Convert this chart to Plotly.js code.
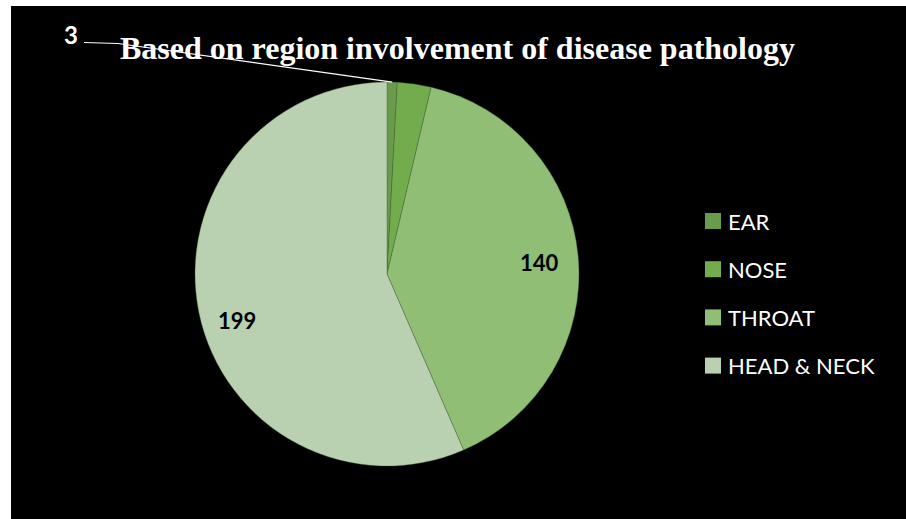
<!DOCTYPE html>
<html>
<head>
<meta charset="utf-8">
<script src="https://cdn.plot.ly/plotly-3.0.1.min.js"></script>
<style>
  html, body { margin: 0; padding: 0; background: #ffffff; }
  #chart { width: 906px; height: 519px; }
</style>
</head>
<body>
<div id="chart"></div>
<script>
// Cases grouped by the region involved
const regions = ['EAR', 'NOSE', 'THROAT', 'HEAD & NECK'];
const caseCounts = [3, 10, 140, 199];
const sliceColors = ['#6a9a4c', '#72ac4d', '#8fbe74', '#b9d1b0'];
// how each slice's value is labelled: leader line outside, inside, or none
const labelMode = ['leader', 'none', 'inside', 'inside'];
const insideYShift = [0, 0, -2, -15];

const W = 906, H = 519;
// pie placement in pixels
const pieCx = 387, pieCy = 274, pieR = 192;

const domainX = [(pieCx - pieR) / W, (pieCx + pieR) / W];
const domainY = [1 - (pieCy + pieR) / H, 1 - (pieCy - pieR) / H];

const pie = {
  type: 'pie',
  labels: regions,
  values: caseCounts,
  sort: false,
  direction: 'clockwise',
  rotation: 0,
  domain: { x: domainX, y: domainY },
  marker: { colors: sliceColors, line: { color: 'rgba(70,100,55,0.55)', width: 0.7 } },
  textinfo: 'none',
  hoverinfo: 'label+value+percent',
  showlegend: false
};

// angular position of every slice, clockwise from 12 o'clock
const total = caseCounts.reduce((a, b) => a + b, 0);
let running = 0;
const midAngles = caseCounts.map(v => {
  const a = (running + v / 2) / total * 2 * Math.PI;
  running += v;
  return a;
});
const px2x = px => px / W;
const px2y = py => 1 - py / H;
const pt = (px, py) => px2x(px).toFixed(5) + ',' + px2y(py).toFixed(5);

const annotations = [];
const shapes = [{
  type: 'rect', xref: 'paper', yref: 'paper', layer: 'below',
  x0: 11 / W, x1: 1, y0: 0, y1: 1 - 6 / H,
  fillcolor: '#000000', line: { width: 0 }
}];

const valueFont = { family: 'Lato, sans-serif', size: 22, color: '#000000', weight: 'bold' };
// outside label with a bent leader line back to the rim
const outLabel = { x: 71, y: 34, lineStartX: 84, lineStartY: 42.5, elbowX: 118, elbowY: 43.5 };
caseCounts.forEach((v, i) => {
  const a = midAngles[i];
  if (labelMode[i] === 'inside') {
    annotations.push({
      xref: 'paper', yref: 'paper',
      x: px2x(pieCx + 0.8 * pieR * Math.sin(a)),
      y: px2y(pieCy - 0.8 * pieR * Math.cos(a)),
      yshift: insideYShift[i],
      xanchor: 'center', yanchor: 'middle',
      text: String(v), showarrow: false, font: valueFont
    });
  } else if (labelMode[i] === 'leader') {
    const tx = pieCx + pieR * Math.sin(a), ty = pieCy - pieR * Math.cos(a);
    annotations.push({
      xref: 'paper', yref: 'paper',
      x: px2x(outLabel.x), y: px2y(outLabel.y),
      xanchor: 'center', yanchor: 'middle',
      text: String(v), showarrow: false,
      font: { family: 'Lato, sans-serif', size: 24, color: '#ffffff', weight: 'bold' }
    });
    shapes.push({
      type: 'path', xref: 'paper', yref: 'paper', layer: 'above',
      path: 'M' + pt(outLabel.lineStartX, outLabel.lineStartY) +
            ' L' + pt(outLabel.elbowX, outLabel.elbowY) +
            ' L' + pt(tx, ty),
      line: { color: '#ffffff', width: 1.2 }
    });
  }
});

// legend built from the same labels and colours
const legX = 705, legSq = 16, legTop = 221, legStep = 48.2;
regions.forEach((name, i) => {
  const cy = legTop + i * legStep;
  shapes.push({
    type: 'rect', xref: 'paper', yref: 'paper', layer: 'above',
    x0: px2x(legX), x1: px2x(legX + legSq),
    y0: px2y(cy + legSq / 2), y1: px2y(cy - legSq / 2),
    fillcolor: sliceColors[i], line: { width: 0 }
  });
  annotations.push({
    xref: 'paper', yref: 'paper',
    x: px2x(legX + legSq + 5), y: px2y(cy),
    xanchor: 'left', yanchor: 'middle',
    text: name, showarrow: false,
    font: { family: 'Lato, sans-serif', size: 22, color: '#ffffff' }
  });
});

const layout = {
  width: W, height: H,
  margin: { l: 0, r: 0, t: 0, b: 0 },
  paper_bgcolor: '#ffffff',
  title: {
    text: '<b>Based on region involvement of disease pathology</b>',
    font: { family: '"Liberation Serif", "Times New Roman", serif', size: 32, color: '#ffffff' },
    x: 457.5 / W, xref: 'paper', xanchor: 'center',
    y: 1 - 47.5 / H, yref: 'container', yanchor: 'middle'
  },
  shapes: shapes,
  annotations: annotations,
  showlegend: false
};

Plotly.newPlot('chart', [pie], layout, { displayModeBar: false, staticPlot: true });
</script>
</body>
</html>
